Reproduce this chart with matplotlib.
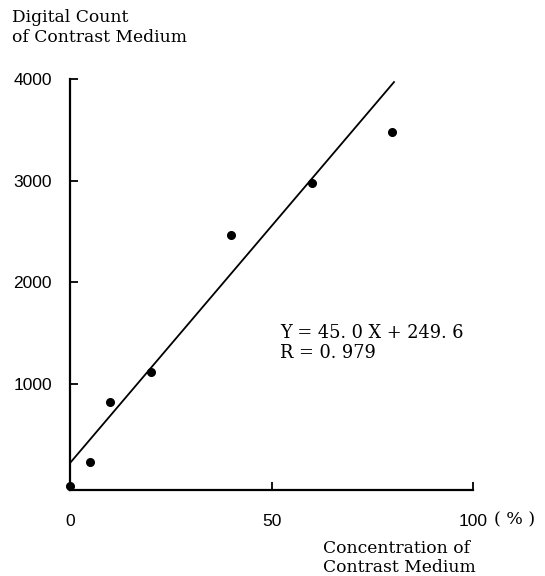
import numpy as np
import matplotlib.pyplot as plt

# data
conc = [0, 5, 10, 20, 40, 60, 80]
count = [0, 233, 823, 1118, 2466, 2977, 3479]
# regression line as drawn (endpoints)
fit_x = [0, 80.4]
fit_y = [225, 3970]
eq_text = 'Y = 45. 0 X + 249. 6\nR = 0. 979'

xticks = [0, 50, 100]
yticks = [1000, 2000, 3000, 4000]

fig = plt.figure(figsize=(5.45, 5.76), dpi=100)
ax = fig.add_axes([70/545, 86/576, 403/545, 411/576])

ax.plot(conc, count, 'o', color='black', ms=5.5, clip_on=False, zorder=3)
ax.plot(fit_x, fit_y, color='black', lw=1.3)

ax.set_xlim(0, 100)
ax.set_ylim(-40, 4000)
ax.spines['top'].set_visible(False)
ax.spines['right'].set_visible(False)
for s in ['left', 'bottom']:
    ax.spines[s].set_linewidth(1.6)

ax.set_xticks(xticks)
ax.set_yticks(yticks)
ax.tick_params(direction='in', length=6, width=1.3, labelsize=12.5, colors='black')
ax.tick_params(axis='y', pad=13)
ax.tick_params(axis='x', pad=17)
for lab in ax.get_xticklabels() + ax.get_yticklabels():
    lab.set_fontfamily('Liberation Sans')

serif = 'DejaVu Serif'
fig.text(494/545, 1 - 520/576, '( % )', fontsize=12.5, family=serif, va='center', ha='left')
fig.text(12/545, 1 - 9/576, 'Digital Count\nof Contrast Medium', fontsize=12.3,
         family=serif, va='top', ha='left', linespacing=1.2)
fig.text(323/545, 1 - 540/576, 'Concentration of\nContrast Medium', fontsize=12.3,
         family=serif, va='top', ha='left', linespacing=1.15)
fig.text(280/545, 1 - 324/576, eq_text, fontsize=12.8,
         family=serif, va='top', ha='left', linespacing=1.15)

fig.savefig('out.png', dpi=100)
